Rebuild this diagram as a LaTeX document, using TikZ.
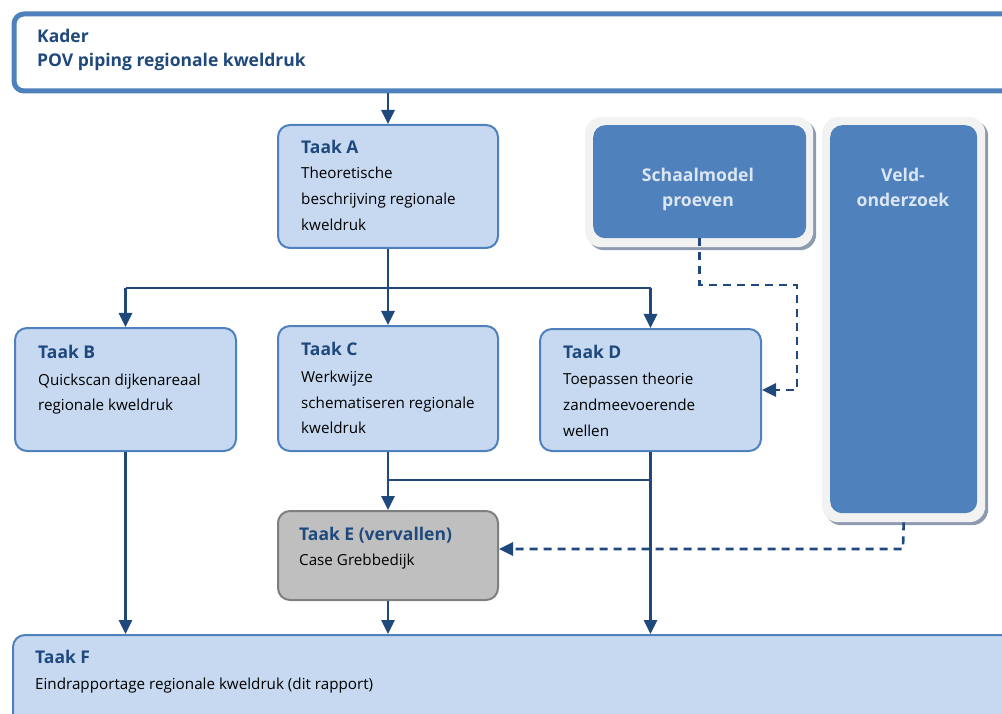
\documentclass[tikz,border=0pt]{standalone}
\usepackage{fontspec}
\setmainfont{Open Sans}
\usetikzlibrary{arrows.meta,shadows}
\definecolor{dblue}{HTML}{1F497D}
\definecolor{mblue}{HTML}{4F81BD}
\definecolor{lfill}{HTML}{C6D9F1}
\definecolor{gfill}{HTML}{BFBFBF}
\definecolor{gline}{HTML}{7F7F7F}
\definecolor{pale}{HTML}{F2F2F2}
\definecolor{shade}{HTML}{8E9AB0}
\definecolor{wtext}{HTML}{DCE6F2}
\tikzset{
  taskbox/.style={draw=mblue, fill=lfill, line width=2pt, rounded corners=12pt, anchor=north west, inner sep=0pt},
  greybox/.style={draw=gline, fill=gfill, line width=2pt, rounded corners=12pt, anchor=north west, inner sep=0pt},
  kaderbox/.style={draw=mblue, fill=white, line width=5pt, rounded corners=10pt, anchor=north west, inner sep=0pt},
  outerbox/.style={fill=pale, rounded corners=16pt, anchor=north west, inner sep=0pt,
     drop shadow={shadow xshift=3pt, shadow yshift=-3pt, fill=shade, opacity=1}},
  innerbox/.style={fill=mblue, rounded corners=12pt, anchor=north west, inner sep=0pt},
  ttl/.style={anchor=base west, inner sep=0pt, text=dblue, font=\fontsize{17.5}{20}\selectfont\bfseries},
  body/.style={anchor=base west, inner sep=0pt, text=black, font=\fontsize{15.2}{18}\selectfont},
  wt/.style={anchor=base, inner sep=0pt, text=wtext, font=\fontsize{17.6}{20}\selectfont\bfseries},
  conn/.style={draw=dblue, line width=2.6pt},
  arr/.style={conn, -{Triangle[width=13pt,length=14pt]}},
  darr/.style={draw=dblue, line width=2.6pt, dash pattern=on 8pt off 6pt, -{Triangle[width=13pt,length=14pt]}},
}
\begin{document}
\begin{tikzpicture}[x=1pt,y=-1pt]
\useasboundingbox (0,0) rectangle (1002,714);
\clip (0,0) rectangle (1002,714);

% boxes
\node[kaderbox, minimum width=1040pt, minimum height=77pt] (K) at (11.5,11.5) {};
\node[taskbox, minimum width=220pt, minimum height=123pt] (A) at (277,124) {};
\node[taskbox, minimum width=221pt, minimum height=123pt] (B) at (14,327) {};
\node[taskbox, minimum width=220pt, minimum height=125pt] (C) at (277,325) {};
\node[taskbox, minimum width=221pt, minimum height=122pt] (D) at (539,328) {};
\node[greybox, minimum width=220pt, minimum height=89pt] (E) at (277,510) {};
\node[taskbox, minimum width=1040pt, minimum height=100pt] (F) at (12,634) {};

\node[outerbox, minimum width=228pt, minimum height=130pt] (So) at (585,117) {};
\node[innerbox, minimum width=213pt, minimum height=113pt] (S) at (593,125) {};
\node[outerbox, minimum width=163pt, minimum height=405pt] (Vo) at (822,117) {};
\node[innerbox, minimum width=147pt, minimum height=388pt] (V) at (830,125) {};

% texts
\node[ttl] (K1) at (37,43) {Kader};
\node[ttl] (K2) at (37,67) {POV piping regionale kweldruk};

\node[ttl] (A1) at (301,154) {Taak A};
\node[body] (A2) at (301,179) {Theoretische};
\node[body] (A3) at (301,205) {beschrijving regionale};
\node[body] (A4) at (301,231) {kweldruk};

\node[ttl] (B1) at (38,358) {Taak B};
\node[body] (B2) at (38,385) {Quickscan dijkenareaal};
\node[body] (B3) at (38,410) {regionale kweldruk};

\node[ttl] (C1) at (301,355) {Taak C};
\node[body] (C2) at (301,382) {Werkwijze};
\node[body] (C3) at (301,408) {schematiseren regionale};
\node[body] (C4) at (301,433) {kweldruk};

\node[ttl] (D1) at (563,358) {Taak D};
\node[body] (D2) at (563,384) {Toepassen theorie};
\node[body] (D3) at (563,410) {zandmeevoerende};
\node[body] (D4) at (563,436) {wellen};

\node[ttl] (E1) at (299,540) {Taak E (vervallen)};
\node[body] (E2) at (299,565) {Case Grebbedijk};

\node[ttl] (F1) at (35,663) {Taak F};
\node[body] (F2) at (35,689) {Eindrapportage regionale kweldruk (dit rapport)};

\node[wt] (S1) at (698,182) {Schaalmodel};
\node[wt] (S2) at (698,207) {proeven};
\node[wt] (V1) at (903,182) {Veld-};
\node[wt] (V2) at (903,207) {onderzoek};

% connectors
\draw[arr] (K.south -| A.north) -- (A.north);
\coordinate (busM) at (A.south |- 0,288);
\coordinate (busL) at (B.north |- busM);
\coordinate (busR) at (D.north |- busM);
\draw[conn] (A.south) -- (busM);
\draw[conn] (busL) -- (busR);
\draw[arr] (busL) -- (B.north);
\draw[arr] (busM) -- (C.north);
\draw[arr] (busR) -- (D.north);

\coordinate (mC) at (C.south |- 0,480);
\coordinate (mD) at (D.south |- 0,480);
\draw[arr] (C.south) -- (E.north);
\draw[conn] (mC) -- (mD);
\draw[arr] (D.south) -- (D.south |- F.north);
\draw[arr] (B.south) -- (B.south |- F.north);
\draw[arr] (E.south) -- (E.south |- F.north);

\coordinate (s1) at (797,285);
\draw[darr] (S.south) |- (s1) |- (D.east);
\coordinate (v1) at (903,549);
\draw[darr] (Vo.south) -- (v1) -- (E.east |- v1);
\end{tikzpicture}
\end{document}
